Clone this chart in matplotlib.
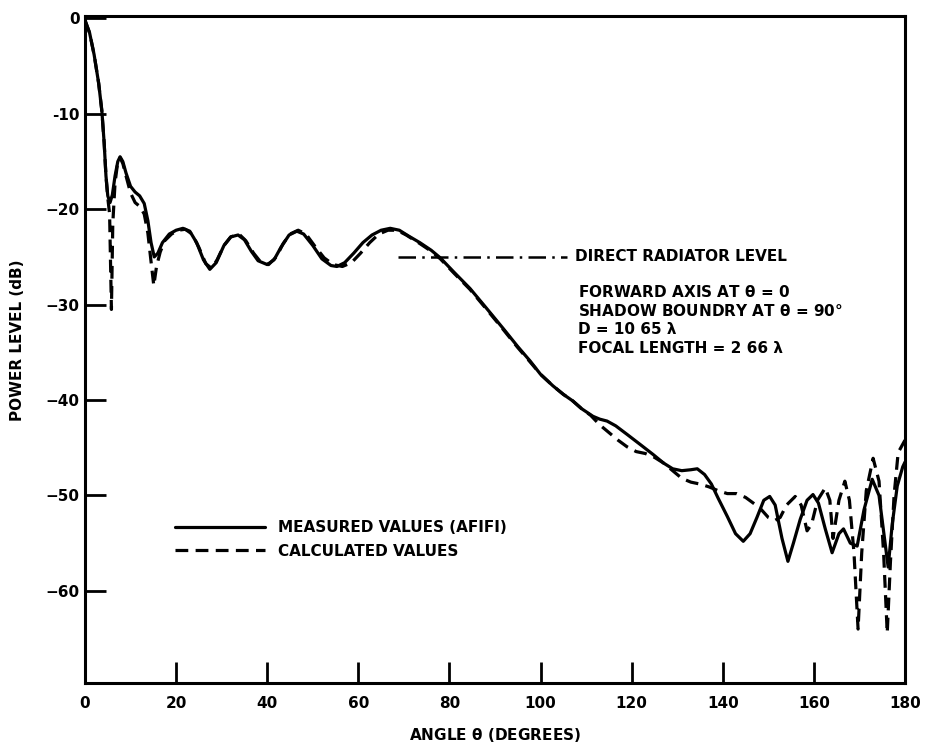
import matplotlib
matplotlib.use("Agg")
import matplotlib.pyplot as plt
from matplotlib.lines import Line2D

# Measured radiation pattern (Afifi), angle in degrees vs. power level in dB
measured_angle = [
    0, 1, 2, 3, 3.7, 4.2, 4.6, 5.0, 5.5, 6.0, 6.6, 7.2, 7.7, 8.3, 9.0, 10.0,
    11.0, 12.0, 13.0, 13.8, 14.5, 15.2, 16.0, 17.0, 18.5, 20, 21.5, 23, 24.5,
    26, 27.4, 28.8, 30.5, 32, 33.6, 35, 36.5, 38, 40, 41.5, 43, 44.8, 46.5, 48,
    50, 52, 54, 55.3, 57, 59, 61, 63, 65, 67, 69, 71, 73.5, 76, 78, 81, 84.5,
    88, 91.8, 95, 97.7, 100, 102.7, 105, 107.1, 109, 111.5, 113, 114.6, 116.5,
    119, 122, 124.7, 127, 129, 131, 133, 134.4, 136, 137.5, 139, 141, 142.8,
    144.5, 146, 147.5, 149, 150.3, 151.5, 153, 154.3, 155.5, 157, 158.5, 159.8,
    161, 162.5, 164, 165.5, 166.5, 168, 169.5, 171, 172.8, 174.3, 175.5, 176.3,
    177.2, 178.3, 179.5, 180,
]
measured_db = [
    -0.2, -1.5, -3.8, -6.8, -9.7, -13.0, -16.5, -18.6, -19.3, -18.5, -16.5,
    -15.0, -14.5, -15.0, -16.2, -17.6, -18.2, -18.6, -19.4, -21.2, -23.5,
    -25.0, -24.6, -23.5, -22.6, -22.2, -22.0, -22.3, -23.5, -25.3, -26.3,
    -25.6, -23.8, -22.9, -22.7, -23.2, -24.4, -25.4, -25.8, -25.3, -24.0,
    -22.7, -22.3, -22.6, -23.8, -25.2, -25.9, -26.0, -25.6, -24.6, -23.5,
    -22.7, -22.2, -22.0, -22.2, -22.8, -23.5, -24.3, -25.1, -26.6, -28.3,
    -30.3, -32.5, -34.4, -35.9, -37.3, -38.5, -39.4, -40.1, -40.9, -41.7,
    -42.0, -42.2, -42.7, -43.6, -44.7, -45.7, -46.6, -47.2, -47.4, -47.3,
    -47.2, -47.8, -48.8, -50.3, -52.2, -54.0, -54.8, -54.0, -52.3, -50.5,
    -50.1, -51.0, -54.5, -56.9, -55.0, -52.5, -50.5, -49.9, -50.8, -53.5,
    -56.0, -54.0, -53.5, -55.0, -55.3, -51.5, -48.3, -50.0, -54.5, -57.5,
    -53.0, -49.0, -47.0, -46.5,
]

# Calculated radiation pattern
calculated_angle = [
    0, 1, 2, 3, 3.7, 4.2, 4.6, 5.0, 5.4, 5.8, 6.1, 6.6, 7.2, 7.7, 8.3, 9.0,
    10.0, 11.0, 12.0, 13.0, 13.8, 14.5, 15.1, 15.7, 16.5, 17.5, 19, 20.5, 22,
    23.5, 25, 26.5, 27.8, 29, 30.5, 32, 33.8, 35.3, 37, 38.5, 40.3, 42, 43.5,
    45, 46.8, 48.5, 50.5, 52.5, 54.5, 56.5, 58.5, 60.5, 62.5, 64.5, 66.5, 68.5,
    70.5, 73.5, 76, 78, 81, 84.5, 88, 91.8, 95, 97.7, 100, 102.7, 105, 107.1,
    109, 111, 113, 115, 117, 119, 121, 123, 125, 127, 129, 131, 133, 135, 137,
    139, 141, 143, 145, 147, 148.5, 150, 151.5, 152.6, 154, 155.9, 157.2, 158.5,
    159.5, 160.8, 162.5, 163.5, 164.2, 165.5, 166.8, 167.8, 168.8, 169.7, 170.5,
    171.5, 173, 174.3, 175.3, 176.1, 176.8, 177.6, 178.5, 180,
]
calculated_db = [
    -0.2, -1.5, -3.8, -6.8, -9.7, -13.0, -16.5, -18.8, -20.5, -30.5, -21.5,
    -17.2, -15.0, -14.6, -15.2, -16.5, -18.3, -19.3, -19.7, -20.5, -22.5,
    -25.5, -28.0, -26.0, -24.5, -23.3, -22.6, -22.2, -22.1, -22.6, -24.0,
    -25.7, -26.2, -25.3, -23.8, -22.9, -22.6, -23.3, -24.6, -25.5, -25.8,
    -25.0, -23.6, -22.6, -22.2, -22.6, -23.9, -25.1, -25.8, -26.0, -25.6,
    -24.6, -23.5, -22.6, -22.2, -22.2, -22.7, -23.6, -24.4, -25.2, -26.7,
    -28.4, -30.4, -32.6, -34.5, -36.0, -37.3, -38.5, -39.4, -40.1, -40.9,
    -41.6, -42.6, -43.4, -44.2, -44.9, -45.4, -45.6, -46.0, -46.6, -47.4,
    -48.2, -48.6, -48.8, -49.1, -49.5, -49.8, -49.8, -50.2, -50.9, -51.5,
    -52.3, -52.6, -52.3, -51.0, -50.1, -51.0, -53.7, -53.0, -50.5, -49.2,
    -50.5, -54.5, -50.5, -48.5, -50.5, -56.0, -64.0, -56.0, -49.5, -46.1,
    -48.5, -56.0, -64.4, -57.0, -50.0, -45.5, -44.2,
]

# Direct radiator reference level
radiator_level = -25.0
radiator_span = [68.7, 105.8]

x_ticks = [0, 20, 40, 60, 80, 100, 120, 140, 160, 180]
x_tick_labels = ["0", "20", "40", "60", "80", "100", "120", "140", "160", "180"]
y_ticks = [0, -10, -20, -30, -40, -50, -60]
y_tick_labels = ["0", "-10", "\u221220", "\u221230", "\u221240", "\u221250", "\u221260"]

notes = [
    "FORWARD AXIS AT $\\theta$ = 0",
    "SHADOW BOUNDRY AT $\\theta$ = 90\u00b0",
    "D = 10 65 \u03bb",
    "FOCAL LENGTH = 2 66 \u03bb",
]

plt.rcParams["font.family"] = ["DejaVu Sans"]
plt.rcParams["font.weight"] = "bold"
plt.rcParams["mathtext.fontset"] = "dejavusans"
plt.rcParams["mathtext.default"] = "bf"

fig = plt.figure(figsize=(9.28, 7.5), dpi=100)
ax = fig.add_axes([85 / 928, 1 - 683 / 750, 820 / 928, 667 / 750])

lw = 2.3
ax.plot(measured_angle, measured_db, color="black", lw=lw,
        solid_joinstyle="round", solid_capstyle="round",
        label="MEASURED VALUES (AFIFI)")
ax.plot(calculated_angle, calculated_db, color="black", lw=lw,
        linestyle=(0, (4, 2.3)), dash_capstyle="butt",
        label="CALCULATED VALUES")
ax.plot(radiator_span, [radiator_level, radiator_level], color="black",
        lw=1.8, linestyle=(0, (7, 2.5, 1, 2.5)))

ax.set_xlim(0, 180)
ax.set_ylim(-69.65, 0.25)

ax.set_xticks(x_ticks)
ax.set_xticklabels(x_tick_labels)
ax.set_yticks(y_ticks)
ax.set_yticklabels(y_tick_labels)
ax.tick_params(axis="both", direction="in", length=15, width=2,
               labelsize=11, colors="black")
ax.tick_params(axis="x", pad=9)
ax.tick_params(axis="y", pad=4)
for lab in ax.get_xticklabels() + ax.get_yticklabels():
    lab.set_fontweight("bold")

for sp in ax.spines.values():
    sp.set_linewidth(2.2)

# Annotations
ax.text(107.6, radiator_level, "DIRECT RADIATOR LEVEL", fontsize=11,
        fontweight="bold", va="center", ha="left")
for i, line in enumerate(notes):
    ax.text(108.2, -28.7 - 1.95 * i, line, fontsize=11, fontweight="bold",
            va="center", ha="left")

leg = ax.legend(loc="upper left", bbox_to_anchor=(0.1098, 0.244),
                frameon=False, fontsize=11, handlelength=5.9,
                handletextpad=0.85, labelspacing=0.55, borderpad=0,
                borderaxespad=0)
for t in leg.get_texts():
    t.set_fontweight("bold")

fig.text(18 / 928, 1 - 340 / 750, "POWER LEVEL (dB)", rotation=90,
         fontsize=11, fontweight="bold", ha="center", va="center")
fig.text(495 / 928, 1 - 735 / 750, "ANGLE $\\theta$ (DEGREES)",
         fontsize=11, fontweight="bold", ha="center", va="center")

fig.savefig("out.png", dpi=100)
